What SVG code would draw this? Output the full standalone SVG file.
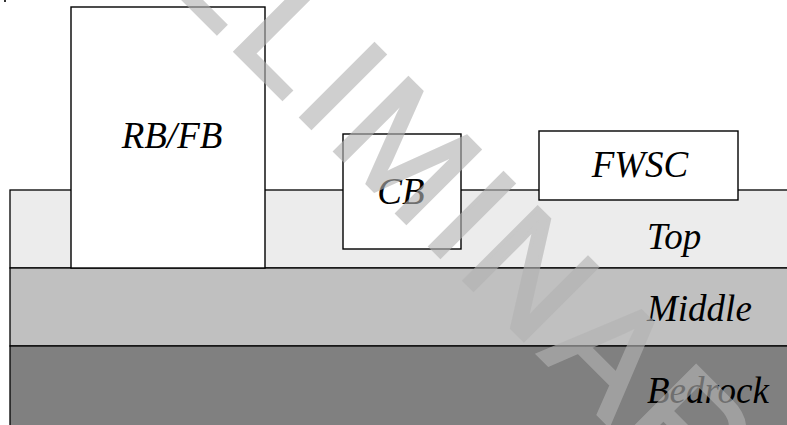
<svg xmlns="http://www.w3.org/2000/svg" width="787" height="425" viewBox="0 0 787 425">
  <style>
    .layer { stroke: #000; stroke-width: 1.3; }
    .box { fill: #fff; stroke: #000; stroke-width: 1.4; }
    .lbl { font-family: "Liberation Serif", "Times New Roman", serif; font-style: italic; font-size: 37px; fill: #000; }
    .wm { font-family: "Liberation Sans", Arial, sans-serif; font-size: 150px; fill: #b3b3b3; stroke: #b3b3b3; stroke-width: 4; letter-spacing: 8px; }
  </style>
  <rect x="4" y="0" width="2" height="2" fill="#333"/>
  <g id="layers">
    <rect id="top-layer" class="layer" x="10" y="190" width="790" height="78" fill="#ececec"/>
    <rect id="middle-layer" class="layer" x="10" y="268" width="790" height="78" fill="#c0c0c0"/>
    <rect id="bedrock-layer" class="layer" x="10" y="346" width="790" height="100" fill="#808080"/>
    <text class="lbl" x="647" y="249">Top</text>
    <text class="lbl" x="647" y="321">Middle</text>
    <text class="lbl" x="647" y="403">Bedrock</text>
  </g>
  <g id="connectors"></g>
  <g id="rbfb">
    <rect class="box" x="71" y="7" width="194" height="261"/>
    <text class="lbl" x="172" y="148" text-anchor="middle">RB/FB</text>
  </g>
  <g id="cb">
    <rect class="box" x="343" y="134" width="118" height="115"/>
    <text class="lbl" x="401" y="204" text-anchor="middle">CB</text>
  </g>
  <g id="fwsc">
    <rect class="box" x="539" y="131" width="199" height="69"/>
    <text class="lbl" x="640" y="177" text-anchor="middle">FWSC</text>
  </g>
  <g id="watermark" opacity="0.62">
    <text class="wm" transform="translate(-8 -192) rotate(45)" x="0" y="0">PRELIMINARY</text>
  </g>
</svg>
